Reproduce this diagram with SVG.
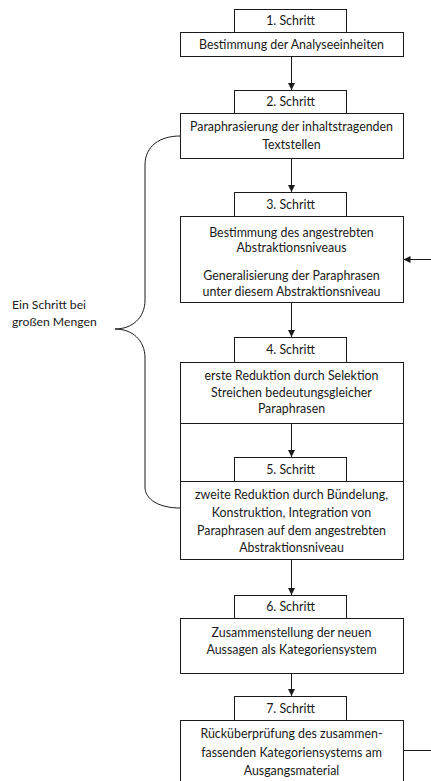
<svg xmlns="http://www.w3.org/2000/svg" width="431" height="781" viewBox="0 0 431 781">
<style>
.b{fill:#fff;stroke:#1a1a1a;stroke-width:1}
.t{font-family:Lato,"Liberation Sans",sans-serif;font-size:12.4px;fill:#1a1a1a;text-anchor:middle}
.l{font-family:Lato,"Liberation Sans",sans-serif;font-size:12.2px;fill:#1a1a1a}
.c{fill:none;stroke:#1a1a1a;stroke-width:1}
</style>
<defs>
<marker id="a" markerWidth="8" markerHeight="8" refX="7" refY="4" orient="auto" markerUnits="userSpaceOnUse">
<path d="M0,0.5 L7,4 L0,7.5 Z" fill="#1a1a1a"/>
</marker>
</defs>
<rect width="431" height="781" fill="#fff"/>
<g id="connectors">
<line class="c" x1="291.5" y1="56" x2="291.5" y2="90" marker-end="url(#a)"/>
<line class="c" x1="291.5" y1="158" x2="291.5" y2="192" marker-end="url(#a)"/>
<line class="c" x1="291.5" y1="302" x2="291.5" y2="337" marker-end="url(#a)"/>
<line class="c" x1="291.5" y1="559" x2="291.5" y2="595" marker-end="url(#a)"/>
<line class="c" x1="291.5" y1="673" x2="291.5" y2="696" marker-end="url(#a)"/>
<line class="c" x1="431" y1="259.5" x2="403.5" y2="259.5" marker-end="url(#a)"/>
<line class="c" x1="403.5" y1="750.5" x2="431" y2="750.5"/>
</g>
<g id="s1">
<rect class="b" x="234.5" y="9.5" width="112" height="23"/>
<text class="t" x="290.5" y="25">1. Schritt</text>
<rect class="b" x="180.5" y="32.5" width="223" height="24"/>
<text class="t" x="291.5" y="48.5">Bestimmung der Analyseeinheiten</text>
</g>
<g id="s2">
<rect class="b" x="234.5" y="90.5" width="112" height="23"/>
<text class="t" x="290.5" y="106">2. Schritt</text>
<rect class="b" x="180.5" y="113.5" width="223" height="45"/>
<text class="t" x="291.5" y="131">Paraphrasierung der inhaltstragenden</text>
<text class="t" x="291.5" y="149">Textstellen</text>
</g>
<g id="s3">
<rect class="b" x="234.5" y="192.5" width="112" height="24"/>
<text class="t" x="290.5" y="208.5">3. Schritt</text>
<rect class="b" x="180.5" y="216.5" width="223" height="86"/>
<text class="t" x="291.5" y="236.5">Bestimmung des angestrebten</text>
<text class="t" x="291.5" y="252">Abstraktionsniveaus</text>
<text class="t" x="291.5" y="280">Generalisierung der Paraphrasen</text>
<text class="t" x="291.5" y="296">unter diesem Abstraktionsniveau</text>
</g>
<g id="s4">
<rect class="b" x="234.5" y="337.5" width="112" height="25"/>
<text class="t" x="290.5" y="354">4. Schritt</text>
<rect class="b" x="180.5" y="362.5" width="223" height="61"/>
<text class="t" x="291.5" y="380">erste Reduktion durch Selektion</text>
<text class="t" x="291.5" y="396.5">Streichen bedeutungsgleicher</text>
<text class="t" x="291.5" y="413">Paraphrasen</text>
</g>
<g id="group45">
<rect class="b" x="180.5" y="423.5" width="223" height="58"/>
<line class="c" x1="291.5" y1="423" x2="291.5" y2="457" marker-end="url(#a)"/>
</g>
<g id="s5">
<rect class="b" x="234.5" y="457.5" width="112" height="24"/>
<text class="t" x="290.5" y="473.5">5. Schritt</text>
<rect class="b" x="180.5" y="481.5" width="223" height="78"/>
<text class="t" x="291.5" y="499">zweite Reduktion durch Bündelung,</text>
<text class="t" x="291.5" y="517">Konstruktion, Integration von</text>
<text class="t" x="291.5" y="535">Paraphrasen auf dem angestrebten</text>
<text class="t" x="291.5" y="552">Abstraktionsniveau</text>
</g>
<g id="s6">
<rect class="b" x="234.5" y="595.5" width="112" height="23"/>
<text class="t" x="290.5" y="611">6. Schritt</text>
<rect class="b" x="180.5" y="618.5" width="223" height="55"/>
<text class="t" x="291.5" y="637">Zusammenstellung der neuen</text>
<text class="t" x="291.5" y="654">Aussagen als Kategoriensystem</text>
</g>
<g id="s7">
<rect class="b" x="234.5" y="696.5" width="112" height="24"/>
<text class="t" x="290.5" y="712.5">7. Schritt</text>
<rect class="b" x="180.5" y="720.5" width="223" height="80"/>
<text class="t" x="291.5" y="738">Rücküberprüfung des zusammen-</text>
<text class="t" x="291.5" y="756.5">fassenden Kategoriensystems am</text>
<text class="t" x="291.5" y="775">Ausgangsmaterial</text>
</g>
<g id="brace">
<path class="c" d="M180,136 C160,136 145,146 145,165 L145,300 C145,318 132,329 115,329 C132,329 145,340 145,358 L145,487 C145,500 160,508 180,508"/>
<text class="l" x="12" y="309">Ein Schritt bei</text>
<text class="l" x="12" y="326">großen Mengen</text>
</g>
</svg>
